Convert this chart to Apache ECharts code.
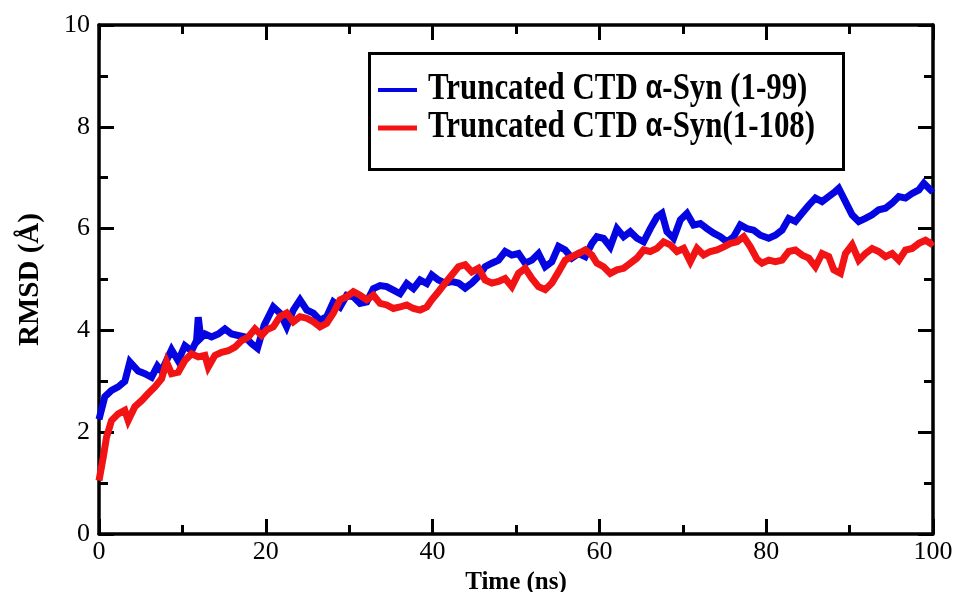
<!DOCTYPE html>
<html>
<head>
<meta charset="utf-8">
<title>RMSD of truncated CTD α-Syn</title>
<script src="https://cdn.jsdelivr.net/npm/echarts@6/dist/echarts.min.js"></script>
<style>
  html, body { margin: 0; padding: 0; background: #ffffff; }
  #chart { width: 960px; height: 592px; }
</style>
</head>
<body>
<div id="chart"></div>
<script>
// RMSD trajectories (Å) against simulation time (ns)
const blueName = 'Truncated CTD α-Syn (1-99)';
const redName = 'Truncated CTD α-Syn (1-108)';

const blueTime = [0, 0.7, 1.5, 2.3, 3.1, 3.7, 4.7, 5.5, 6.3, 7.0, 7.5, 8.7, 9.5, 10.3, 11.1, 11.7, 11.9, 12.2, 12.7, 13.5,
  14.3, 15.1, 15.9, 16.7, 17.5, 18.3, 19.0, 19.8, 20.9, 21.7, 22.5, 23.3, 24.1, 24.9, 25.7, 26.5, 27.3, 28.1, 28.9, 29.7,
  30.5, 31.3, 32.1, 32.9, 33.7, 34.5, 35.3, 36.1, 36.9, 37.7, 38.5, 39.3, 39.9, 40.7, 41.5, 42.3, 43.1, 43.9, 44.7, 45.5,
  46.3, 47.1, 47.9, 48.7, 49.5, 50.3, 51.1, 51.9, 52.7, 53.5, 54.3, 55.1, 55.9, 56.7, 57.5, 58.3, 59.1, 59.7, 60.5, 61.3,
  62.1, 62.9, 63.7, 64.5, 65.3, 66.1, 66.9, 67.5, 68.1, 68.9, 69.7, 70.5, 71.3, 72.1, 72.9, 73.7, 74.5, 75.3, 76.1, 76.9,
  77.7, 78.5, 79.3, 80.3, 81.1, 81.9, 82.7, 83.5, 84.3, 85.1, 85.9, 86.7, 87.5, 88.3, 88.7, 89.5, 90.3, 91.1, 91.9, 92.7,
  93.5, 94.3, 95.1, 95.9, 96.7, 97.5, 98.3, 98.9, 99.7, 100];
const blueRmsd = [2.25, 2.7, 2.82, 2.89, 3.0, 3.38, 3.2, 3.15, 3.08, 3.3, 3.2, 3.62, 3.4, 3.7, 3.6, 3.8, 4.26, 3.85, 3.93, 3.87,
  3.93, 4.03, 3.93, 3.9, 3.87, 3.74, 3.65, 4.1, 4.46, 4.34, 4.07, 4.4, 4.6, 4.4, 4.34, 4.2, 4.27, 4.56, 4.46, 4.69,
  4.66, 4.53, 4.56, 4.82, 4.88, 4.86, 4.79, 4.72, 4.92, 4.82, 4.99, 4.92, 5.09, 4.99, 4.93, 4.96, 4.93, 4.83, 4.93, 5.06,
  5.25, 5.32, 5.38, 5.55, 5.48, 5.51, 5.32, 5.38, 5.51, 5.25, 5.35, 5.65, 5.58, 5.42, 5.51, 5.45, 5.71, 5.84, 5.81, 5.64,
  6.0, 5.84, 5.94, 5.81, 5.74, 6.0, 6.23, 6.3, 5.94, 5.81, 6.17, 6.3, 6.07, 6.1, 6.0, 5.91, 5.84, 5.74, 5.84, 6.07,
  6.0, 5.97, 5.87, 5.81, 5.87, 5.97, 6.2, 6.14, 6.3, 6.46, 6.6, 6.53, 6.63, 6.73, 6.79, 6.53, 6.27, 6.14, 6.2, 6.27,
  6.37, 6.4, 6.5, 6.63, 6.6, 6.69, 6.76, 6.89, 6.76, 6.8];

const redTime = [0, 0.5, 0.9, 1.5, 2.3, 3.1, 3.5, 4.3, 5.1, 5.9, 6.7, 7.5, 8.1, 8.7, 9.5, 10.3, 11.1, 11.9, 12.7, 13.1,
  13.9, 14.7, 15.5, 16.3, 17.1, 17.9, 18.7, 19.5, 20.1, 20.9, 21.7, 22.5, 23.3, 24.1, 24.9, 25.7, 26.5, 27.3, 28.1, 28.9,
  29.7, 30.5, 31.3, 32.1, 32.9, 33.7, 34.5, 35.3, 36.1, 36.9, 37.7, 38.5, 39.3, 39.9, 40.7, 41.5, 42.3, 43.1, 43.9, 44.7,
  45.5, 46.3, 47.1, 47.9, 48.7, 49.5, 50.3, 51.1, 51.9, 52.7, 53.5, 54.3, 55.1, 55.9, 56.7, 57.5, 58.3, 59.1, 59.7, 60.5,
  61.3, 62.1, 62.9, 63.7, 64.5, 65.3, 66.1, 66.9, 67.7, 68.5, 69.3, 70.1, 70.9, 71.7, 72.5, 73.3, 74.1, 74.9, 75.7, 76.5,
  77.3, 78.1, 78.9, 79.5, 80.3, 81.1, 81.9, 82.7, 83.5, 84.3, 85.1, 85.9, 86.7, 87.5, 88.1, 88.9, 89.5, 90.3, 91.1, 91.9,
  92.7, 93.5, 94.3, 95.1, 95.9, 96.7, 97.5, 98.3, 99.1, 99.7, 100];
const redRmsd = [1.05, 1.5, 1.9, 2.23, 2.36, 2.43, 2.23, 2.5, 2.62, 2.76, 2.89, 3.05, 3.38, 3.15, 3.18, 3.41, 3.54, 3.48, 3.51, 3.28,
  3.51, 3.57, 3.6, 3.67, 3.8, 3.87, 4.03, 3.9, 4.01, 4.07, 4.27, 4.34, 4.17, 4.27, 4.24, 4.17, 4.07, 4.14, 4.34, 4.6,
  4.66, 4.76, 4.69, 4.6, 4.69, 4.53, 4.5, 4.43, 4.46, 4.5, 4.43, 4.4, 4.46, 4.6, 4.76, 4.93, 5.09, 5.25, 5.29, 5.15,
  5.22, 4.99, 4.93, 4.96, 5.02, 4.86, 5.12, 5.22, 5.02, 4.86, 4.8, 4.93, 5.15, 5.38, 5.45, 5.51, 5.58, 5.48, 5.32, 5.25,
  5.12, 5.19, 5.22, 5.32, 5.42, 5.58, 5.55, 5.61, 5.74, 5.68, 5.55, 5.61, 5.35, 5.61, 5.48, 5.55, 5.58, 5.64, 5.71, 5.74,
  5.84, 5.64, 5.4, 5.32, 5.38, 5.35, 5.38, 5.55, 5.58, 5.48, 5.42, 5.25, 5.51, 5.45, 5.19, 5.12, 5.51, 5.68, 5.38, 5.51,
  5.61, 5.55, 5.45, 5.51, 5.38, 5.58, 5.61, 5.71, 5.77, 5.71, 5.75];

const blueColor = '#0505e2';
const redColor = '#f21414';
const serif = 'Liberation Serif';

const pairs = (xs, ys) => xs.map((x, i) => [x, ys[i]]);

// Shared styling for the boxed frame: thick black lines, inward ticks on every side
function frameAxis(extra) {
  return Object.assign({
    type: 'value',
    axisLine: { show: true, onZero: false, lineStyle: { color: '#000', width: 3.5 } },
    axisTick: { show: true, inside: true, length: 15, lineStyle: { color: '#000', width: 3 } },
    minorTick: { show: true, splitNumber: 2, length: 9, lineStyle: { color: '#000', width: 3 } },
    splitLine: { show: false },
    minorSplitLine: { show: false }
  }, extra);
}

const chart = echarts.init(document.getElementById('chart'), null, { renderer: 'canvas' });

chart.setOption({
  backgroundColor: '#ffffff',
  animation: false,
  grid: { left: 99, right: 27, top: 25, bottom: 58, containLabel: false, outerBoundsMode: 'none' },
  xAxis: [
    frameAxis({
      position: 'bottom', min: 0, max: 100, interval: 20,
      name: 'Time (ns)', nameLocation: 'middle', nameGap: 31,
      nameTextStyle: { fontFamily: serif, fontWeight: 'bold', fontSize: 25, color: '#000' },
      axisLabel: { show: true, margin: 5, fontFamily: serif, fontSize: 26, color: '#000' }
    }),
    frameAxis({
      position: 'top', min: 0, max: 100, interval: 20,
      axisLabel: { show: false }
    })
  ],
  yAxis: [
    frameAxis({
      position: 'left', min: 0, max: 10, interval: 2,
      name: 'RMSD (Å)', nameLocation: 'middle', nameGap: 54,
      nameTextStyle: { fontFamily: serif, fontWeight: 'bold', fontSize: 29, color: '#000' },
      axisLabel: { show: true, margin: 9, fontFamily: serif, fontSize: 26, color: '#000' }
    }),
    frameAxis({
      position: 'right', min: 0, max: 10, interval: 2,
      axisLabel: { show: false }
    })
  ],
  series: [
    {
      name: blueName, type: 'line', xAxisIndex: 0, yAxisIndex: 0,
      data: pairs(blueTime, blueRmsd),
      showSymbol: false, smooth: false,
      lineStyle: { color: blueColor, width: 7, join: 'miter' },
      itemStyle: { color: blueColor }, z: 2
    },
    {
      name: redName, type: 'line', xAxisIndex: 0, yAxisIndex: 0,
      data: pairs(redTime, redRmsd),
      showSymbol: false, smooth: false,
      lineStyle: { color: redColor, width: 7, join: 'miter' },
      itemStyle: { color: redColor }, z: 3
    }
  ],
  // Boxed key in the upper right of the plot
  graphic: [
    {
      type: 'rect', left: 368, top: 52, z: 10,
      shape: { width: 474, height: 116 },
      style: { fill: '#ffffff', stroke: '#000', lineWidth: 3 }
    },
    {
      type: 'line', z: 11,
      shape: { x1: 378, y1: 90, x2: 417, y2: 90 },
      style: { stroke: blueColor, lineWidth: 4 }
    },
    {
      type: 'line', z: 11,
      shape: { x1: 378, y1: 128, x2: 417, y2: 128 },
      style: { stroke: redColor, lineWidth: 5 }
    },
    {
      type: 'text', x: 428, y: 89, scaleX: 0.835, z: 11,
      style: {
        text: 'Truncated CTD {a|α}-Syn (1-99)',
        fontFamily: serif, fontWeight: 'bold', fontSize: 37, fill: '#000',
        verticalAlign: 'middle', align: 'left',
        rich: { a: { fontFamily: 'Liberation Sans', fontWeight: 'bold', fontSize: 33, fill: '#000' } }
      }
    },
    {
      type: 'text', x: 428, y: 127, scaleX: 0.835, z: 11,
      style: {
        text: 'Truncated CTD {a|α}-Syn(1-108)',
        fontFamily: serif, fontWeight: 'bold', fontSize: 37, fill: '#000',
        verticalAlign: 'middle', align: 'left',
        rich: { a: { fontFamily: 'Liberation Sans', fontWeight: 'bold', fontSize: 33, fill: '#000' } }
      }
    }
  ]
});
</script>
</body>
</html>
